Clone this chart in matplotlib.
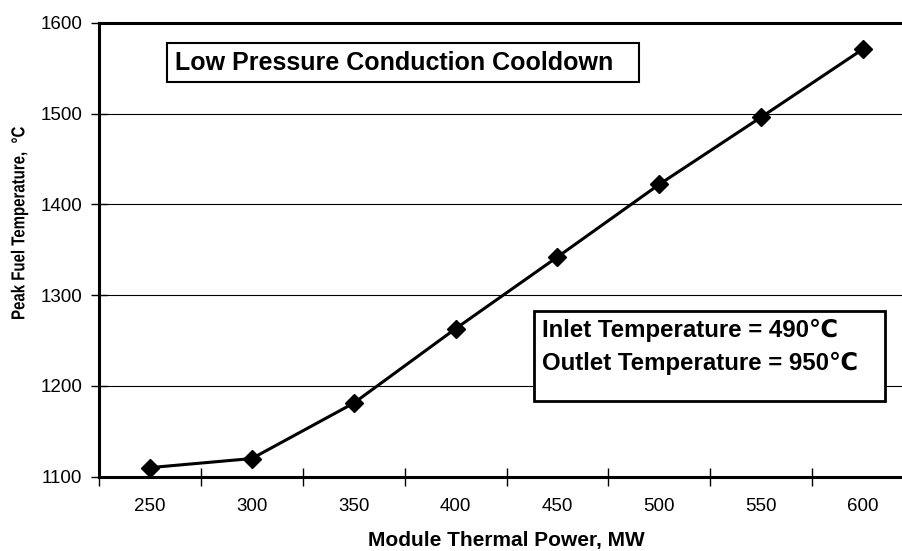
import matplotlib
matplotlib.use("Agg")
import matplotlib.pyplot as plt
from matplotlib.patches import Rectangle, PathPatch
from matplotlib.textpath import TextPath
from matplotlib.font_manager import FontProperties
from matplotlib.transforms import Affine2D

# module thermal power (MW) and peak fuel temperature (C)
power_mw = ["250", "300", "350", "400", "450", "500", "550", "600"]
peak_temp = [1110, 1120, 1181, 1263, 1342, 1422, 1496, 1571]
y_ticks = [1100, 1200, 1300, 1400, 1500, 1600]

plt.rcParams['font.family'] = ['Liberation Sans', 'DejaVu Sans']

W, H = 902.0, 551.0
fig = plt.figure(figsize=(W / 100, H / 100), dpi=100)


def fpos(px, py):
    # pixel position (from top left) -> figure fraction
    return px / W, 1 - py / H


# plot area runs a little past the right edge of the figure
ax = fig.add_axes([99 / W, (H - 476.7) / H, (914 - 99) / W, (476.7 - 22.7) / H])

x = list(range(len(power_mw)))
ax.plot(x, peak_temp, color='black', linewidth=2.2, marker='D',
        markersize=9, markerfacecolor='black', markeredgecolor='black',
        zorder=3)

ax.set_xlim(-0.5, len(power_mw) - 0.5)
ax.set_ylim(1100, 1600)
ax.set_yticks(y_ticks)
ax.set_xticks(x)
ax.set_xticklabels(power_mw)
ax.set_xticks([i - 0.5 for i in range(len(power_mw) + 1)], minor=True)
ax.tick_params(axis='x', which='major', length=0, pad=15, labelsize=13.5)
ax.tick_params(axis='x', which='minor', direction='inout', length=13, width=1)
ax.tick_params(axis='y', direction='inout', length=12, width=1, pad=6,
               labelsize=13.5)

ax.grid(axis='y', color='black', linewidth=0.8)
for side in ['left', 'bottom', 'top', 'right']:
    ax.spines[side].set_linewidth(2.2)

ax.set_xlabel("Module Thermal Power, MW", fontsize=15, fontweight='bold',
              labelpad=12)

# y label: condensed bold text, drawn as a path so it can be squeezed
fp = FontProperties(family=['Liberation Sans', 'DejaVu Sans'], weight='bold')
tp = TextPath((0, 0), "Peak Fuel Temperature,  \u00b0C", size=18.75, prop=fp)
bb = tp.get_extents()
tr = (Affine2D().translate(-(bb.x0 + bb.x1) / 2, -(bb.y0 + bb.y1) / 2)
      .scale(0.80, 1.0).rotate_deg(90).translate(19.5, H - 223))
fig.patches.append(PathPatch(tp, transform=tr, facecolor='black',
                             edgecolor='none', zorder=5))

# title box
x0, y0 = fpos(167, 82)
x1, y1 = fpos(639, 43)
fig.patches.append(Rectangle((x0, y0), x1 - x0, y1 - y0, transform=fig.transFigure,
                             facecolor='white', edgecolor='black', linewidth=1.5,
                             zorder=4))
fig.text(*fpos(175, 70), "Low Pressure Conduction Cooldown", fontsize=18,
         fontweight='bold', va='baseline', ha='left', zorder=5)

# inlet / outlet temperature box
x0, y0 = fpos(534, 401)
x1, y1 = fpos(885, 311)
fig.patches.append(Rectangle((x0, y0), x1 - x0, y1 - y0, transform=fig.transFigure,
                             facecolor='white', edgecolor='black', linewidth=2,
                             zorder=4))
fig.text(*fpos(542, 337), "Inlet Temperature = 490\u2103", fontsize=17.3,
         fontweight='bold', va='baseline', ha='left', zorder=5)
fig.text(*fpos(542, 370), "Outlet Temperature = 950\u2103", fontsize=17.3,
         fontweight='bold', va='baseline', ha='left', zorder=5)

fig.savefig("out.png", dpi=100)
